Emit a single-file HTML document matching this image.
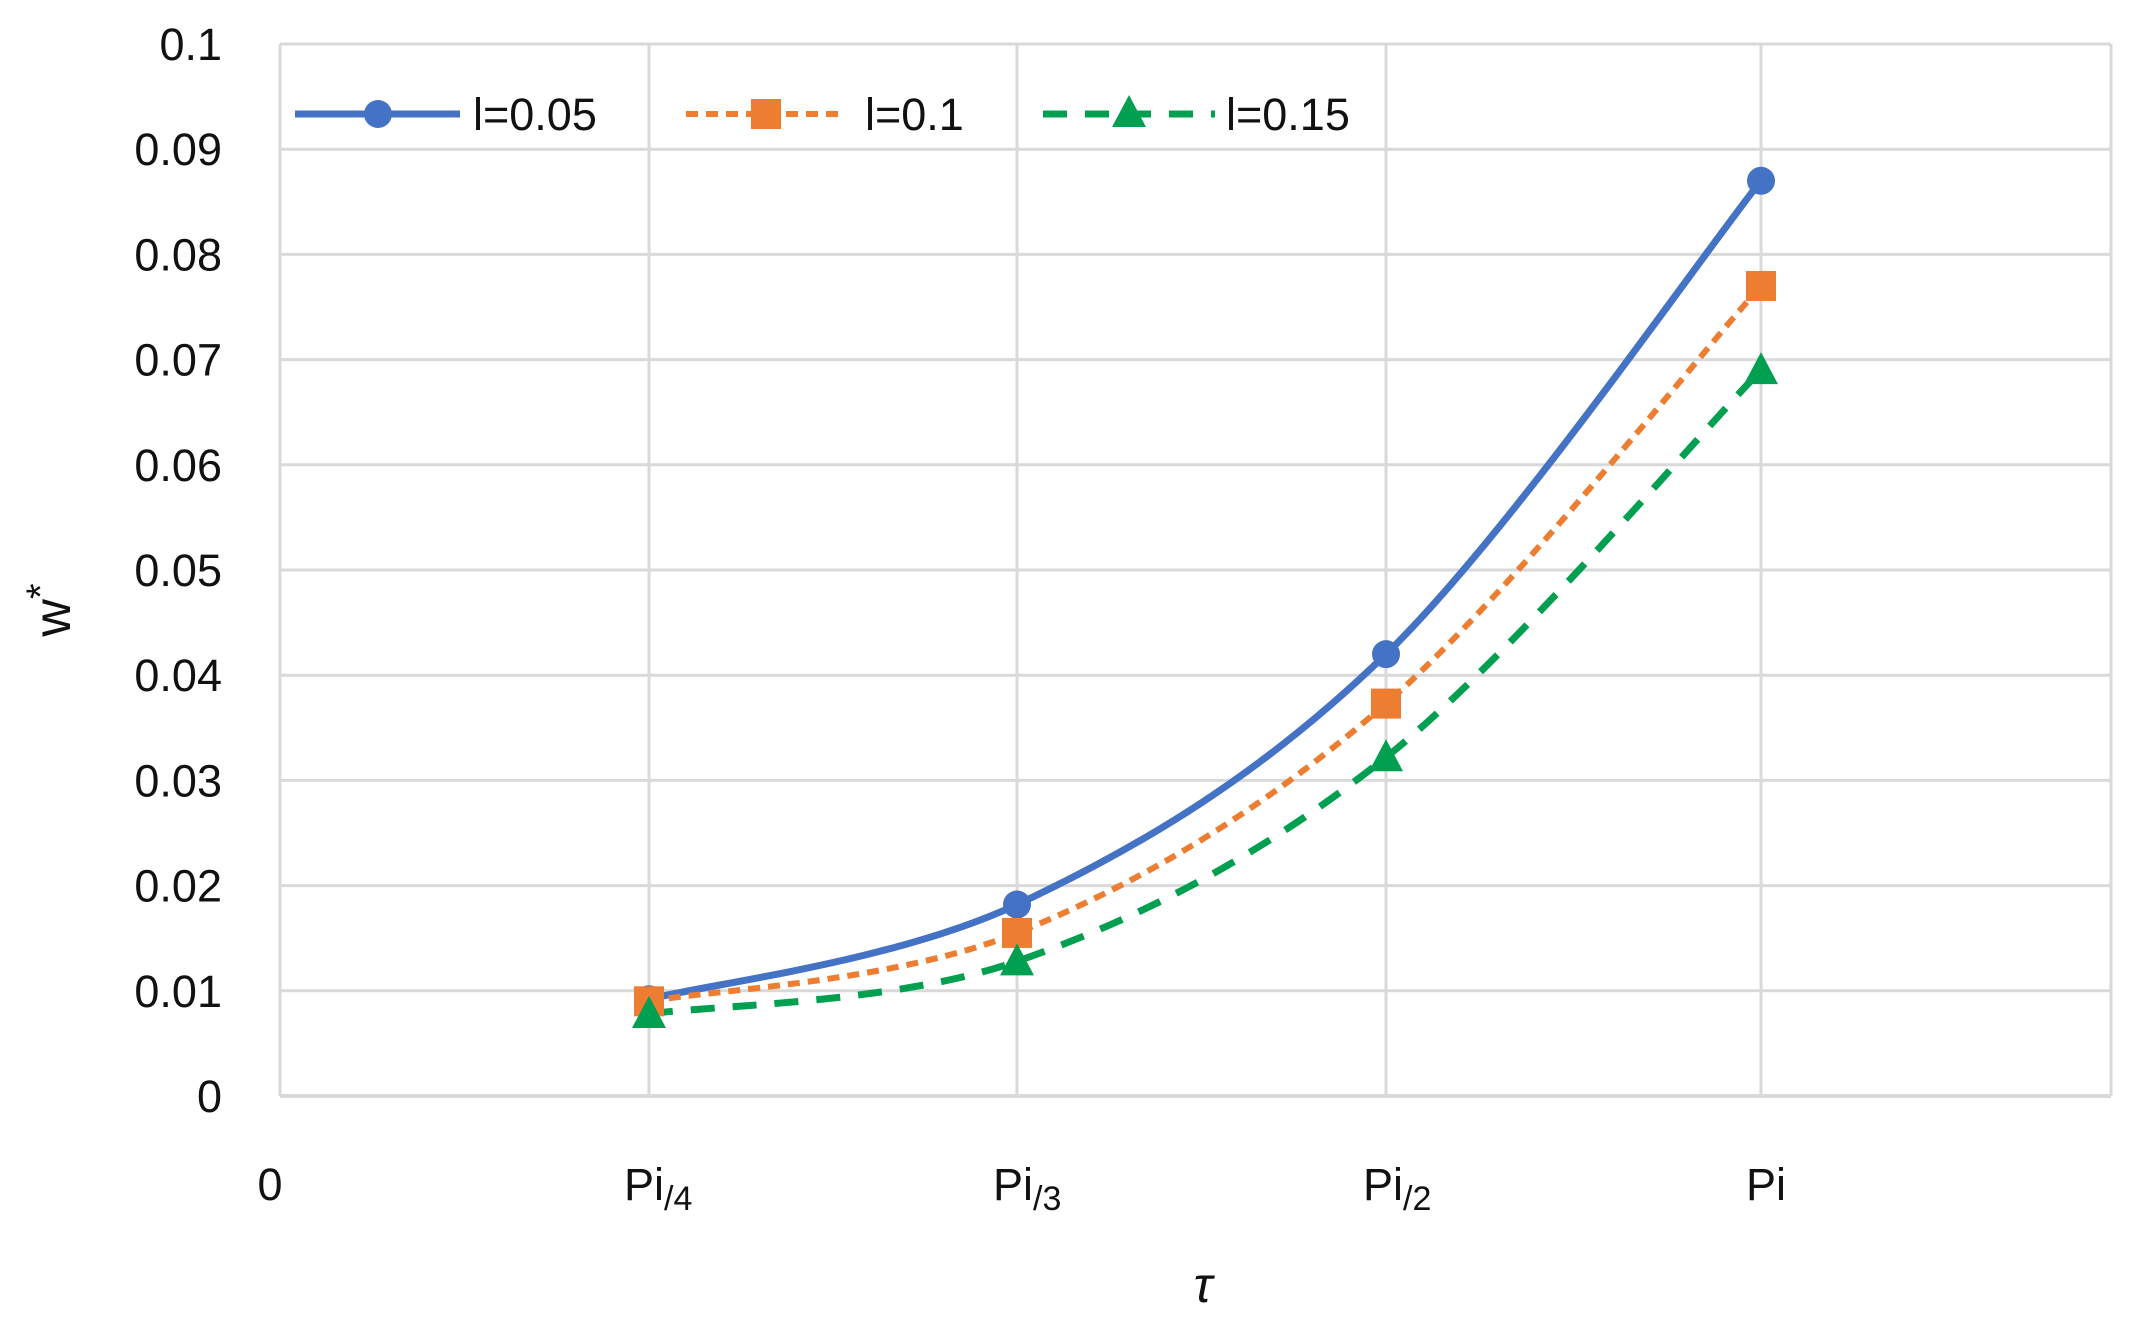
<!DOCTYPE html>
<html><head><meta charset="utf-8"><style>
html,body{margin:0;padding:0;background:#fff;}
svg{display:block;}
text{font-family:"Liberation Sans",sans-serif;fill:#111;}
</style></head><body>
<svg id="c" width="2152" height="1320" viewBox="0 0 2152 1320" xmlns="http://www.w3.org/2000/svg">
<g id="grid" stroke="#d9d9d9" stroke-width="3"></g>
<g id="ylab" font-size="45" text-anchor="end"></g>
<g font-size="45">
<text x="270" y="1200" text-anchor="middle">0</text>
<text x="624" y="1200">Pi<tspan font-size="34" dy="10">/4</tspan></text>
<text x="993" y="1200">Pi<tspan font-size="34" dy="10">/3</tspan></text>
<text x="1363" y="1200">Pi<tspan font-size="34" dy="10">/2</tspan></text>
<text x="1746" y="1200">Pi</text>
<text x="1203" y="1302" text-anchor="middle" font-style="italic" font-family="Liberation Serif,serif" font-size="50">τ</text>
<text transform="translate(70,610) rotate(-90)" text-anchor="middle" font-size="52">w<tspan dy="-16" font-size="40">*</tspan></text>
</g>
<g id="series"></g>
<g id="legend" font-size="45">
<line x1="295" y1="114" x2="460" y2="114" stroke="#4472c4" stroke-width="7"/>
<circle cx="378" cy="114" r="14" fill="#4472c4"/>
<text x="473" y="130">l=0.05</text>
<line x1="686" y1="114" x2="844" y2="114" stroke="#ed7d31" stroke-width="6" stroke-dasharray="12,8"/>
<rect x="751" y="99" width="30" height="30" fill="#ed7d31"/>
<text x="865" y="130">l=0.1</text>
<line x1="1043" y1="114" x2="1215" y2="114" stroke="#00a050" stroke-width="7" stroke-dasharray="24,18"/>
<polygon points="1129,95 1146,127 1112,127" fill="#00a050"/>
<text x="1226" y="130">l=0.15</text>
</g>
</svg>
<script>
var ns="http://www.w3.org/2000/svg";
function el(t,a,p){var e=document.createElementNS(ns,t);for(var k in a)e.setAttribute(k,a[k]);p.appendChild(e);return e;}
var L=280,R=2111,T=44,B=1096;
function Y(v){return B-(B-T)*v/0.1;}
var g=document.getElementById('grid'),yl=document.getElementById('ylab');
var labs=["0","0.01","0.02","0.03","0.04","0.05","0.06","0.07","0.08","0.09","0.1"];
for(var i=0;i<=10;i++){var y=Y(i/100);el('line',{x1:L,x2:R,y1:y,y2:y,'stroke-width':i==0?4:3},g);
var t=el('text',{x:222,y:y+16},yl);t.textContent=labs[i];}
var xs=[649,1017,1386,1761];
el('line',{x1:L,x2:L,y1:T,y2:B},g);el('line',{x1:R,x2:R,y1:T,y2:B},g);
xs.forEach(function(x){el('line',{x1:x,x2:x,y1:T,y2:B},g);});
var S=document.getElementById('series');
var data=[
 {v:[0.0092,0.0182,0.042,0.087],c:"#4472c4",w:7,d:"",m:"c"},
 {v:[0.009,0.0155,0.0373,0.077],c:"#ed7d31",w:6,d:"12,8",m:"s"},
 {v:[0.0078,0.0128,0.0322,0.069],c:"#00a050",w:7,d:"24,18",m:"t"}];
data.forEach(function(s){
 var p=s.v.map(function(v,i){return[xs[i],Y(v)];});
 var d="M"+p[0][0]+","+p[0][1];
 for(var i=0;i<p.length-1;i++){
  var p0=p[Math.max(i-1,0)],p1=p[i],p2=p[i+1],p3=p[Math.min(i+2,p.length-1)],k=1/6;
  d+=" C"+(p1[0]+(p2[0]-p0[0])*k)+","+(p1[1]+(p2[1]-p0[1])*k)+" "+(p2[0]-(p3[0]-p1[0])*k)+","+(p2[1]-(p3[1]-p1[1])*k)+" "+p2[0]+","+p2[1];}
 var a={d:d,fill:"none",stroke:s.c,'stroke-width':s.w};if(s.d)a['stroke-dasharray']=s.d;
 el('path',a,S);
});
data.forEach(function(s){
 s.v.forEach(function(v,i){var x=xs[i],y=Y(v);
  if(s.m=="c")el('circle',{cx:x,cy:y,r:14,fill:s.c},S);
  else if(s.m=="s")el('rect',{x:x-15,y:y-15,width:30,height:30,fill:s.c},S);
  else el('polygon',{points:x+","+(y-18)+" "+(x+17)+","+(y+14)+" "+(x-17)+","+(y+14),fill:s.c},S);
 });
});
</script>
</body></html>
